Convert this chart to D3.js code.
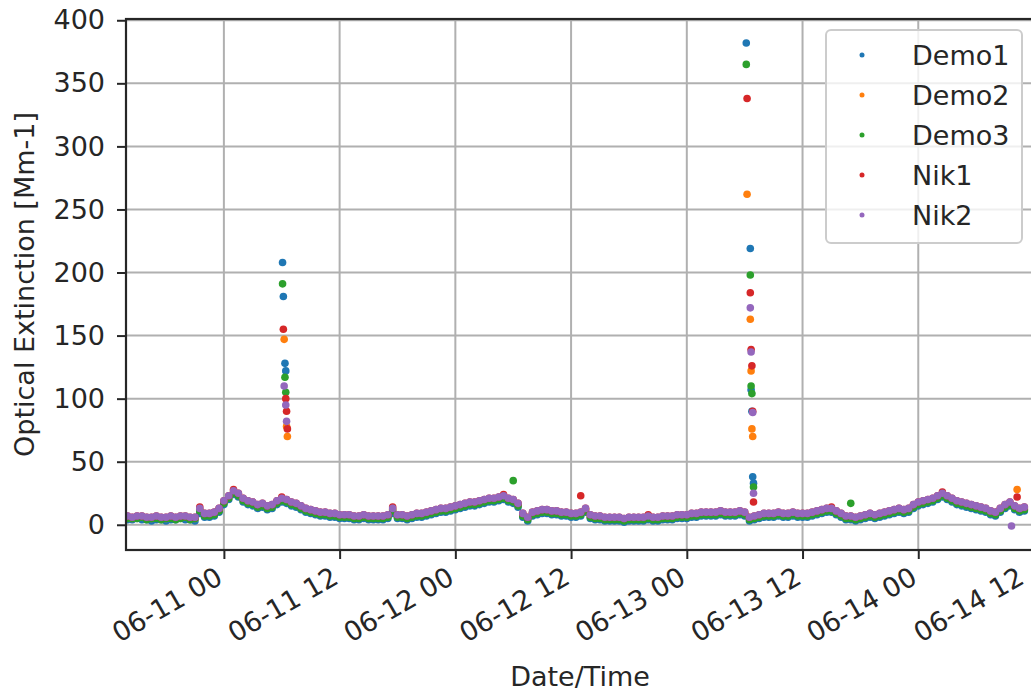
<!DOCTYPE html>
<html>
<head>
<meta charset="utf-8">
<script src="https://cdn.jsdelivr.net/npm/d3@7"></script>
<style>
  html, body { margin: 0; padding: 0; background: #fff; }
  svg { display: block; font-family: "DejaVu Sans", sans-serif; }
</style>
</head>
<body>
<svg id="chart" width="1031" height="692"></svg>
<script>
// ---------------- DATA ----------------
const seriesNames = ["Demo1", "Demo2", "Demo3", "Nik1", "Nik2"];
const seriesColors = ["#1f77b4", "#ff7f0e", "#2ca02c", "#d62728", "#9467bd"];
// regular half-hourly samples starting 2019-06-10 14:00
const sampleStart = "2019-06-10 14:00";
const sampleStepMinutes = 30;

const demo1 = [4,4,5,4,4,3,4,4,3,4,4,5,4,4,3, 9,6,6,7,10,
  16,20,24,22,18,16,15,13,14,12,13,16,18,17,15,14,12,10,9,8,7,7,6,6,5,
  5,5,4,4,5,4,4,4,4,5,9,5, 5,4,5,6,6,7,8,9,10,10,11,12,
  13,14,15,15,16,17,18,18,19,20,18, 17,14,6,3,7,8,9,9,8,8,7,7,6,
  6,7,10,5,4,4,3,3,3,3,2,3,3,3,3,4,3,3,4,4,4,5,5,5,
  6,6,7,7,7,7,8,7,7,7,8,7,3,4,5,6,6,6,7,6,6,7,6,6,
  6,7,8,9,10,10,8,6,4,4,3,4,5,6,5,6,7,8,9,10,9,10,13,15,
  16,17,18,20,22,20,18,16,15,14,13,12,11,10,8,7,10,13,15,12,10,11];
const demo2 = [6,5,6,6,5,5,6,5,5,6,5,6,6,5,5, 12,8,8,9,12,
  18,22,26,24,20,18,17,15,16,14,15,18,20,19,17,16,14,12,11,10,9,9,8,8,7,
  7,7,6,6,7,6,6,6,6,7,12,7, 7,6,7,8,8,9,10,11,12,12,13,14,
  15,16,17,17,18,19,20,20,21,22,20, 19,16,8,5,9,10,11,11,10,10,9,9,8,
  8,9,12,7,6,6,5,5,5,5,4,5,5,5,5,6,5,5,6,6,6,7,7,7,
  8,8,9,9,9,9,10,9,9,9,10,9,5,6,7,8,8,8,9,8,8,9,8,8,
  8,9,10,11,12,12,10,8,6,6,5,6,7,8,7,8,9,10,11,12,11,12,15,17,
  18,19,20,22,24,22,20,18,17,16,15,14,13,12,10,9,12,15,17,14,12,13];
const demo3 = [5,5,5,6,4,5,5,4,5,5,4,5,6,4,5, 11,7,7,8,11,
  17,21,25,23,19,17,16,14,15,13,14,17,19,18,16,15,13,11,10,9,8,8,7,7,6,
  6,6,5,5,6,5,5,5,5,6,11,6, 6,5,6,7,7,8,9,10,11,11,12,13,
  14,15,16,16,17,18,19,19,20,21,19, 18,15,7,4,8,9,10,10,9,9,8,8,7,
  7,8,11,6,5,5,4,4,4,4,3,4,4,4,4,5,4,4,5,5,5,6,6,6,
  7,7,8,8,8,8,9,8,8,8,9,8,4,5,6,7,7,7,8,7,7,8,7,7,
  7,8,9,10,11,11,9,7,5,5,4,5,6,7,6,7,8,9,10,11,10,11,14,16,
  17,18,19,21,23,21,19,17,16,15,14,13,12,11,9,8,11,14,16,13,11,12];
const nik1 = [7,6,7,7,6,6,7,6,6,7,6,7,7,6,6, 14,9,9,10,13,
  19,23,28,25,21,19,18,16,17,15,16,19,22,20,18,17,15,13,12,11,10,10,9,9,8,
  8,8,7,7,8,7,7,7,7,8,14,8, 8,7,8,9,9,10,11,12,13,13,14,15,
  16,17,18,18,19,20,21,21,22,24,21, 20,17,9,6,10,11,12,12,11,11,10,10,9,
  9,10,13,8,7,7,6,6,6,6,5,6,6,6,6,8,6,6,7,7,7,8,8,8,
  9,9,10,10,10,10,11,10,10,10,11,10,6,7,8,9,9,9,10,9,9,10,9,9,
  9,10,11,12,13,14,11,9,7,7,6,7,8,9,8,9,10,11,12,13,12,13,16,18,
  19,20,21,23,26,23,21,19,18,17,16,15,14,13,11,10,13,16,18,15,13,14];
const nik2 = [7,6,7,7,6,6,7,6,6,7,6,7,7,6,6, 13,9,9,10,13,
  19,23,27,25,21,19,18,16,17,15,16,19,21,20,18,17,15,13,12,11,10,10,9,9,8,
  8,8,7,7,8,7,7,7,7,8,13,8, 8,7,8,9,9,10,11,12,13,13,14,15,
  16,17,18,18,19,20,21,21,22,23,21, 20,17,9,6,10,11,12,12,11,11,10,10,9,
  9,10,13,8,7,7,6,6,6,6,5,6,6,6,6,7,6,6,7,7,7,8,8,8,
  9,9,10,10,10,10,11,10,10,10,11,10,6,7,8,9,9,9,10,9,9,10,9,9,
  9,10,11,12,13,13,11,9,7,7,6,7,8,9,8,9,10,11,12,13,12,13,16,18,
  19,20,21,23,25,23,21,19,18,17,16,15,14,13,11,10,13,16,18,15,13,14];

// short events (irregular timestamps)
const demo1EventTimes = ["2019-06-11 06:05","2019-06-11 06:10","2019-06-11 06:20","2019-06-11 06:25",
  "2019-06-13 06:10","2019-06-13 06:35","2019-06-13 06:40","2019-06-13 06:45","2019-06-13 06:50","2019-06-13 06:55"];
const demo1EventValues = [208,181,128,122, 382,219,107,90,38,33];
const demo2EventTimes = ["2019-06-11 06:15","2019-06-11 06:30","2019-06-11 06:35",
  "2019-06-13 06:15","2019-06-13 06:35","2019-06-13 06:40","2019-06-13 06:45","2019-06-13 06:50","2019-06-14 10:15"];
const demo2EventValues = [147,78,70, 262,163,122,76,70,28];
const demo3EventTimes = ["2019-06-11 06:05","2019-06-11 06:20","2019-06-11 06:25",
  "2019-06-13 06:10","2019-06-13 06:35","2019-06-13 06:40","2019-06-13 06:45","2019-06-13 06:55","2019-06-12 06:00","2019-06-13 17:00"];
const demo3EventValues = [191,117,105, 365,198,110,104,30,35,17];
const nik1EventTimes = ["2019-06-11 06:10","2019-06-11 06:25","2019-06-11 06:30","2019-06-11 06:35",
  "2019-06-13 06:15","2019-06-13 06:35","2019-06-13 06:40","2019-06-13 06:45","2019-06-13 06:50","2019-06-13 06:55","2019-06-12 13:00","2019-06-14 10:15"];
const nik1EventValues = [155,100,90,76, 338,184,139,126,90,18,23,22];
const nik2EventTimes = ["2019-06-11 06:15","2019-06-11 06:25","2019-06-11 06:30",
  "2019-06-13 06:35","2019-06-13 06:40","2019-06-13 06:50","2019-06-13 06:55","2019-06-14 09:40"];
const nik2EventValues = [110,95,82, 172,137,89,25,-1];

const yTicks = [0,50,100,150,200,250,300,350,400];
const xTickTimes = ["2019-06-11 00:00","2019-06-11 12:00","2019-06-12 00:00","2019-06-12 12:00",
  "2019-06-13 00:00","2019-06-13 12:00","2019-06-14 00:00","2019-06-14 12:00"];
const xDomain = ["2019-06-10 13:51", "2019-06-14 12:00"];
const yDomain = [-20, 401];
const xLabel = "Date/Time";
const yLabel = "Optical Extinction [Mm-1]";

// ---------------- BUILD ----------------
const parse = d3.timeParse("%Y-%m-%d %H:%M");
const baseArrays = [demo1, demo2, demo3, nik1, nik2];
const evT = [demo1EventTimes, demo2EventTimes, demo3EventTimes, nik1EventTimes, nik2EventTimes];
const evV = [demo1EventValues, demo2EventValues, demo3EventValues, nik1EventValues, nik2EventValues];
const t0 = parse(sampleStart);
const series = seriesNames.map((name, k) => {
  const pts = baseArrays[k].map((v, i) => ({t: d3.timeMinute.offset(t0, i * sampleStepMinutes), v}));
  evT[k].forEach((s, i) => pts.push({t: parse(s), v: evV[k][i]}));
  return {name, color: seriesColors[k], pts};
});

const W = 1031;
const plot = {left: 126, right: 1034, top: 19, bottom: 550};
const x = d3.scaleTime().domain(xDomain.map(parse)).range([plot.left, plot.right]);
const y = d3.scaleLinear().domain(yDomain).range([plot.bottom, plot.top]);

const svg = d3.select("#chart");
const FS = 27;
const TXT = "#262626";

// grid
const g = svg.append("g");
g.selectAll(".gx").data(xTickTimes.map(parse)).join("line")
  .attr("x1", d => x(d)).attr("x2", d => x(d))
  .attr("y1", plot.top).attr("y2", plot.bottom)
  .attr("stroke", "#b0b0b0").attr("stroke-width", 2);
g.selectAll(".gy").data(yTicks).join("line")
  .attr("x1", plot.left).attr("x2", plot.right)
  .attr("y1", d => y(d)).attr("y2", d => y(d))
  .attr("stroke", "#b0b0b0").attr("stroke-width", 2);

// points
svg.append("clipPath").attr("id", "clip").append("rect")
  .attr("x", plot.left).attr("y", plot.top)
  .attr("width", plot.right - plot.left).attr("height", plot.bottom - plot.top);
const pg = svg.append("g").attr("clip-path", "url(#clip)");
series.forEach(s => {
  pg.append("g").selectAll("circle").data(s.pts).join("circle")
    .attr("cx", d => x(d.t)).attr("cy", d => y(d.v))
    .attr("r", 3.8).attr("fill", s.color);
});

// axes
const yAxis = d3.axisLeft(y).tickValues(yTicks).tickSize(9).tickPadding(12);
const ya = svg.append("g").attr("transform", `translate(${plot.left},0)`).call(yAxis);
ya.select(".domain").remove();
ya.selectAll("text").attr("font-size", FS).attr("fill", TXT).attr("font-family", "DejaVu Sans");
ya.selectAll("line").attr("stroke", TXT).attr("stroke-width", 2);

const fmt = d3.timeFormat("%m-%d %H");
const xAxis = d3.axisBottom(x).tickValues(xTickTimes.map(parse)).tickSize(9).tickFormat(fmt);
const xa = svg.append("g").attr("transform", `translate(0,${plot.bottom})`).call(xAxis);
xa.select(".domain").remove();
xa.selectAll("line").attr("stroke", TXT).attr("stroke-width", 2);
xa.selectAll("text")
  .attr("font-size", FS).attr("fill", TXT).attr("font-family", "DejaVu Sans")
  .attr("text-anchor", "end").attr("dy", null).attr("y", null)
  .attr("dominant-baseline", "hanging")
  .attr("transform", "translate(-10,15) rotate(-30)");
// keep the last rotated label inside the picture
xa.selectAll("text").each(function() {
  const r = this.getBoundingClientRect();
  if (r.right > W - 2) {
    const shift = r.right - (W - 2);
    d3.select(this).attr("transform", `translate(${-10 - shift},15) rotate(-30)`);
  }
});

// spines
svg.append("rect").attr("x", plot.left).attr("y", plot.top)
  .attr("width", plot.right - plot.left).attr("height", plot.bottom - plot.top)
  .attr("fill", "none").attr("stroke", TXT).attr("stroke-width", 2.2);

// labels
svg.append("text").attr("x", (plot.left + plot.right) / 2).attr("y", 686)
  .attr("text-anchor", "middle").attr("font-size", FS).attr("fill", TXT).text(xLabel);
svg.append("text").attr("transform", `translate(24,${(plot.top + plot.bottom) / 2}) rotate(-90)`)
  .attr("text-anchor", "middle").attr("dominant-baseline", "central")
  .attr("font-size", FS).attr("fill", TXT).text(yLabel);

// legend
const lg = svg.append("g");
lg.append("rect").attr("x", 826).attr("y", 30).attr("width", 196).attr("height", 213).attr("rx", 5)
  .attr("fill", "#fff").attr("fill-opacity", 0.8).attr("stroke", "#cccccc").attr("stroke-width", 2);
series.forEach((s, i) => {
  const yy = 55 + i * 40;
  lg.append("circle").attr("cx", 862).attr("cy", yy).attr("r", 2.5).attr("fill", s.color);
  lg.append("text").attr("x", 912).attr("y", yy).attr("dominant-baseline", "central")
    .attr("font-size", FS).attr("fill", TXT).text(s.name);
});
</script>
</body>
</html>
